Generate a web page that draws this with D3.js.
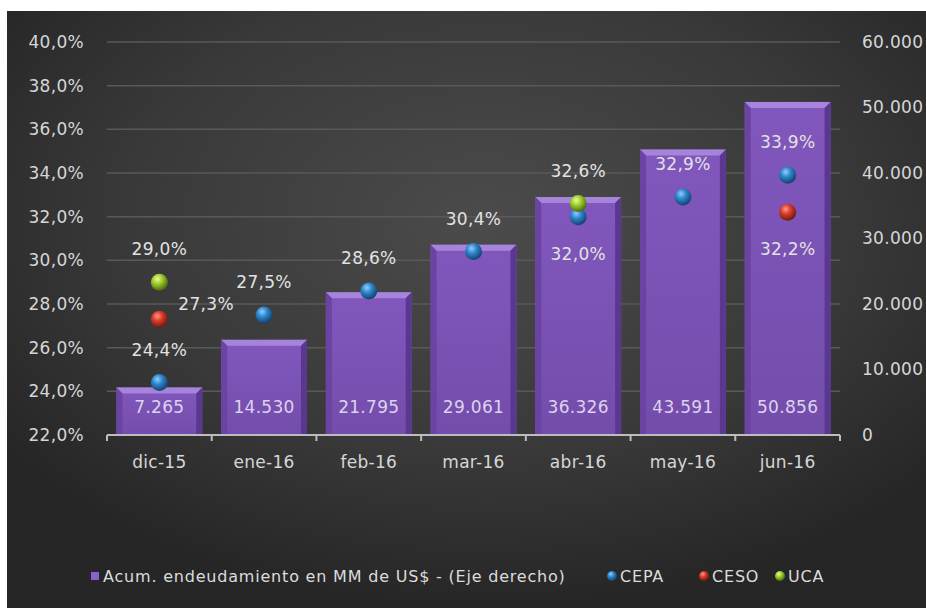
<!DOCTYPE html>
<html>
<head>
<meta charset="utf-8">
<script src="https://cdn.jsdelivr.net/npm/d3@7"></script>
<style>
  body { margin: 0; background: #fff; }
  text { font-family: "DejaVu Sans", sans-serif; letter-spacing: 0.3px; }
</style>
</head>
<body>
<script>
// chart data
const categories = ['dic-15', 'ene-16', 'feb-16', 'mar-16', 'abr-16', 'may-16', 'jun-16']
const deuda = [7265, 14530, 21795, 29061, 36326, 43591, 50856]
const cepa = [24.4, 27.5, 28.6, 30.4, 32.0, 32.9, 33.9]
const ceso = [27.3, null, null, null, null, null, 32.2]
const uca = [29.0, null, null, null, 32.6, null, null]
const leftTicks = [22, 24, 26, 28, 30, 32, 34, 36, 38, 40]
const rightTicks = [0, 10000, 20000, 30000, 40000, 50000, 60000]
const barName = 'Acum. endeudamiento en MM de US$ - (Eje derecho)'

// where each point label sits
const cepaPos = ['above', 'above', 'above', 'above', 'below', 'above', 'above']
const cesoPos = ['right', null, null, null, null, null, 'below']
const ucaPos = ['above', null, null, null, 'above', null, null]

const W = 926, H = 608
const pLeft = 107, pRight = 840, pTop = 42, pBottom = 435

const loc = d3.formatLocale({ decimal: ',', thousands: '.', grouping: [3], currency: ['$', ''] })
const fmtNum = loc.format(',d')
const fmtPct = v => loc.format('.1f')(v) + '%'

const svg = d3.select('body').append('svg').attr('width', W).attr('height', H)
const defs = svg.append('defs')

const bg = defs.append('radialGradient').attr('id', 'bg')
    .attr('cx', '52%').attr('cy', '35%').attr('r', '65%')
bg.append('stop').attr('offset', '0%').attr('stop-color', '#4b4b4b')
bg.append('stop').attr('offset', '60%').attr('stop-color', '#393939')
bg.append('stop').attr('offset', '100%').attr('stop-color', '#262626')

const barGrad = defs.append('linearGradient').attr('id', 'barg')
    .attr('x1', 0).attr('y1', 0).attr('x2', 0).attr('y2', 1)
barGrad.append('stop').attr('offset', '0%').attr('stop-color', '#8157bd')
barGrad.append('stop').attr('offset', '100%').attr('stop-color', '#744dab')

function ball(id, light, mid, dark) {
    const g = defs.append('radialGradient').attr('id', id)
        .attr('cx', '40%').attr('cy', '35%').attr('r', '65%').attr('fx', '38%').attr('fy', '30%')
    g.append('stop').attr('offset', '0%').attr('stop-color', light)
    g.append('stop').attr('offset', '45%').attr('stop-color', mid)
    g.append('stop').attr('offset', '100%').attr('stop-color', dark)
}
ball('cepa', '#8fd0ff', '#2f86cc', '#13426f')
ball('ceso', '#ff9a86', '#d93b29', '#6e1a10')
ball('uca', '#e8ff9a', '#9fcc2e', '#4d6a10')

svg.append('rect').attr('x', 7).attr('y', 11).attr('width', W - 7).attr('height', H - 11)
    .attr('fill', 'url(#bg)')

const x = d3.scaleBand().domain(categories).range([pLeft, pRight]).paddingInner(0.18).paddingOuter(0.09)
const yL = d3.scaleLinear().domain([22, 40]).range([pBottom, pTop])
const yR = d3.scaleLinear().domain([0, 60000]).range([pBottom, pTop])

// gridlines + left axis
const gl = svg.append('g').attr('transform', `translate(${pLeft},0)`)
    .call(d3.axisLeft(yL).tickValues(leftTicks).tickFormat(fmtPct).tickSize(0).tickPadding(23))
gl.select('.domain').remove()
gl.selectAll('text').attr('fill', '#d6d6d6').attr('font-size', 17)
svg.append('g').selectAll('line').data(leftTicks.filter(d => d > 22)).join('line')
    .attr('x1', pLeft).attr('x2', pRight).attr('y1', d => yL(d)).attr('y2', d => yL(d))
    .attr('stroke', '#595959').attr('stroke-width', 1.5)

const gr = svg.append('g').attr('transform', `translate(${pRight},0)`)
    .call(d3.axisRight(yR).tickValues(rightTicks).tickFormat(fmtNum).tickSize(0).tickPadding(22))
gr.select('.domain').remove()
gr.selectAll('text').attr('fill', '#d6d6d6').attr('font-size', 17)

// bars with a bevel
const bw = x.bandwidth(), bev = 6
const bars = svg.append('g').selectAll('g').data(deuda).join('g')
bars.append('rect')
    .attr('x', (d, i) => x(categories[i])).attr('y', d => yR(d))
    .attr('width', bw).attr('height', d => pBottom - yR(d)).attr('fill', 'url(#barg)')
bars.append('polygon').attr('fill', '#a784dc').attr('points', (d, i) => {
    const x0 = x(categories[i]), y0 = yR(d)
    return [[x0, y0], [x0 + bw, y0], [x0 + bw - bev, y0 + bev], [x0 + bev, y0 + bev]].join(' ')
})
bars.append('polygon').attr('fill', '#6a43a3').attr('points', (d, i) => {
    const x0 = x(categories[i]), y0 = yR(d)
    return [[x0, y0], [x0 + bev, y0 + bev], [x0 + bev, pBottom], [x0, pBottom]].join(' ')
})
bars.append('polygon').attr('fill', '#5a3890').attr('points', (d, i) => {
    const x0 = x(categories[i]) + bw, y0 = yR(d)
    return [[x0, y0], [x0 - bev, y0 + bev], [x0 - bev, pBottom], [x0, pBottom]].join(' ')
})
bars.append('text')
    .attr('x', (d, i) => x(categories[i]) + bw / 2).attr('y', pBottom - 22)
    .attr('text-anchor', 'middle').attr('font-size', 17).attr('fill', '#ddd2f0')
    .text(d => fmtNum(d))

// x axis
const gx = svg.append('g').attr('transform', `translate(0,${pBottom})`)
    .call(d3.axisBottom(x).tickSize(0).tickPadding(21))
gx.select('.domain').remove()
gx.selectAll('text').attr('fill', '#d6d6d6').attr('font-size', 17)
svg.append('line').attr('x1', pLeft).attr('x2', pRight).attr('y1', pBottom).attr('y2', pBottom)
    .attr('stroke', '#bdbdbd').attr('stroke-width', 2)
const bounds = categories.map(c => x(c) - x.step() * x.paddingInner() / 2).concat([pRight])
bounds[0] = pLeft
svg.append('g').selectAll('line').data(bounds).join('line')
    .attr('x1', d => d).attr('x2', d => d).attr('y1', pBottom).attr('y2', pBottom + 6)
    .attr('stroke', '#bdbdbd').attr('stroke-width', 2)

// point series
const series = [
    { key: 'cepa', vals: cepa, pos: cepaPos },
    { key: 'ceso', vals: ceso, pos: cesoPos },
    { key: 'uca', vals: uca, pos: ucaPos }
]
const cx = i => x(categories[i]) + bw / 2
series.forEach(s => {
    const pts = s.vals.map((v, i) => ({ v, i, p: s.pos[i] })).filter(d => d.v != null)
    svg.append('g').selectAll('circle').data(pts).join('circle')
        .attr('cx', d => cx(d.i)).attr('cy', d => yL(d.v)).attr('r', 8.5)
        .attr('fill', `url(#${s.key})`)
})
series.forEach(s => {
    const pts = s.vals.map((v, i) => ({ v, i, p: s.pos[i] })).filter(d => d.v != null)
    svg.append('g').selectAll('text').data(pts).join('text')
        .attr('x', d => d.p === 'right' ? cx(d.i) + 19 : cx(d.i))
        .attr('y', d => yL(d.v) + (d.p === 'above' ? -27 : d.p === 'below' ? 43 : -9))
        .attr('text-anchor', d => d.p === 'right' ? 'start' : 'middle')
        .attr('font-size', 17).attr('fill', '#e2e2e2')
        .text(d => fmtPct(d.v))
})

// legend
const leg = [
    { name: barName, sw: 'rect', fill: '#8a5fd0', x: 95 },
    { name: 'CEPA', sw: 'circle', fill: 'url(#cepa)', x: 612 },
    { name: 'CESO', sw: 'circle', fill: 'url(#ceso)', x: 704 },
    { name: 'UCA', sw: 'circle', fill: 'url(#uca)', x: 780 }
]
const ly = 576
const lg = svg.append('g').selectAll('g').data(leg).join('g')
lg.filter(d => d.sw === 'rect').append('rect')
    .attr('x', d => d.x - 4).attr('y', ly - 4).attr('width', 8).attr('height', 8).attr('fill', d => d.fill)
lg.filter(d => d.sw === 'circle').append('circle')
    .attr('cx', d => d.x).attr('cy', ly).attr('r', 5).attr('fill', d => d.fill)
lg.append('text').attr('x', d => d.x + 8).attr('y', ly + 6)
    .attr('font-size', 16).style('letter-spacing', '0.8px').attr('fill', '#dcdcdc').text(d => d.name)
</script>
</body>
</html>
